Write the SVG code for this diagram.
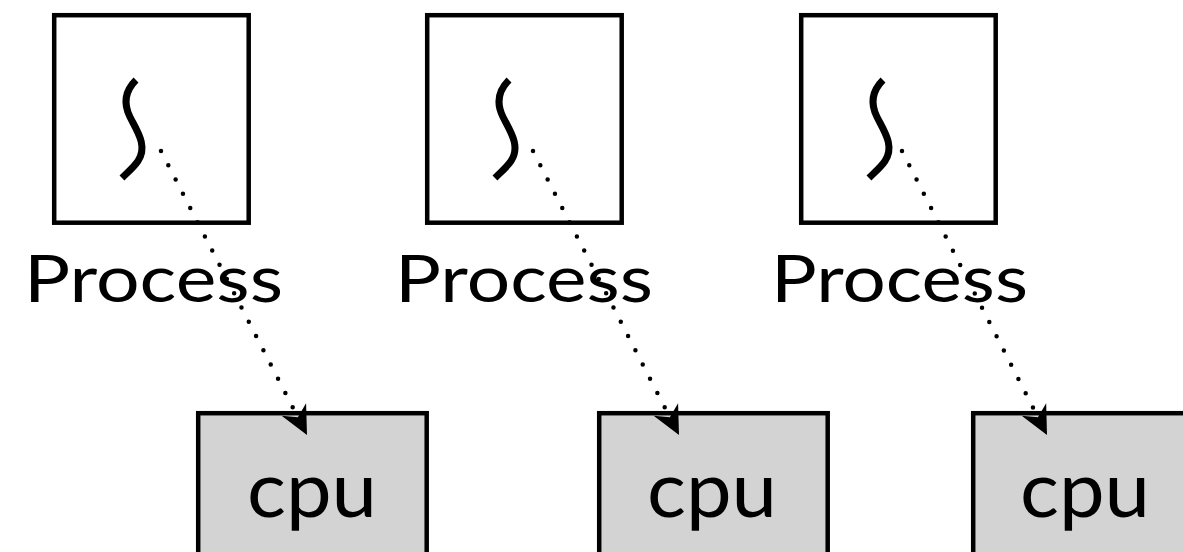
<svg xmlns="http://www.w3.org/2000/svg" width="1183" height="552" viewBox="0 0 1183 552">
  <style>
    .proc { fill: #ffffff; stroke: #000000; stroke-width: 4.5; }
    .cpu { fill: #d3d3d3; stroke: #000000; stroke-width: 4.5; }
    .thread { fill: none; stroke: #000000; stroke-width: 7; stroke-linecap: butt; }
    .label { font-family: Lato, "Liberation Sans", sans-serif; fill: #000000; }
    .plabel { font-size: 65px; }
    .clabel { font-size: 78px; }
    .link { fill: none; stroke: #000000; stroke-width: 4.5; stroke-linecap: round; stroke-dasharray: 0 16; }
  </style>
  <defs>
    <marker id="arrow" markerUnits="userSpaceOnUse" markerWidth="30" markerHeight="30" viewBox="0 -12 24 24" refX="23" refY="0" orient="auto">
      <path d="M0,-11 L23,0 L0,11 L7,0 Z" fill="#000000"/>
    </marker>
  </defs>

  <!-- processes, each with its wavy thread glyph -->
  <g id="process-1">
    <rect class="proc" x="54.2" y="15.2" width="194.5" height="207.5"/>
    <path class="thread" d="M136,80 C125,91 123,103 130,117 C137,131 148,146 138,161 C134,167 128,172 122,178"/>
    <text class="label plabel" x="24" y="302" textLength="259" lengthAdjust="spacingAndGlyphs">Process</text>
  </g>
  <g id="process-2">
    <rect class="proc" x="427.2" y="15.2" width="194.5" height="207.5"/>
    <path class="thread" transform="translate(373,0)" d="M136,80 C125,91 123,103 130,117 C137,131 148,146 138,161 C134,167 128,172 122,178"/>
    <text class="label plabel" x="395" y="302" textLength="258" lengthAdjust="spacingAndGlyphs">Process</text>
  </g>
  <g id="process-3">
    <rect class="proc" x="801.2" y="15.2" width="194.5" height="207.5"/>
    <path class="thread" transform="translate(747,0)" d="M136,80 C125,91 123,103 130,117 C137,131 148,146 138,161 C134,167 128,172 122,178"/>
    <text class="label plabel" x="771" y="302" textLength="257" lengthAdjust="spacingAndGlyphs">Process</text>
  </g>

  <!-- cpus -->
  <g id="cpu-1">
    <rect class="cpu" x="198.2" y="413.2" width="228.5" height="200"/>
    <text class="label clabel" x="312" y="517" text-anchor="middle" textLength="130" lengthAdjust="spacingAndGlyphs">cpu</text>
  </g>
  <g id="cpu-2">
    <rect class="cpu" x="599.2" y="413.2" width="228.5" height="200"/>
    <text class="label clabel" x="712" y="517" text-anchor="middle" textLength="130" lengthAdjust="spacingAndGlyphs">cpu</text>
  </g>
  <g id="cpu-3">
    <rect class="cpu" x="973.2" y="413.2" width="228.5" height="200"/>
    <text class="label clabel" x="1085" y="517" text-anchor="middle" textLength="130" lengthAdjust="spacingAndGlyphs">cpu</text>
  </g>

  <!-- thread-to-cpu connectors -->
  <g id="connectors">
    <path class="link" d="M161,151 L307,435" marker-end="url(#arrow)"/>
    <path class="link" d="M533,151 L679,435" marker-end="url(#arrow)"/>
    <path class="link" d="M902,151 L1047,435" marker-end="url(#arrow)"/>
  </g>
</svg>
